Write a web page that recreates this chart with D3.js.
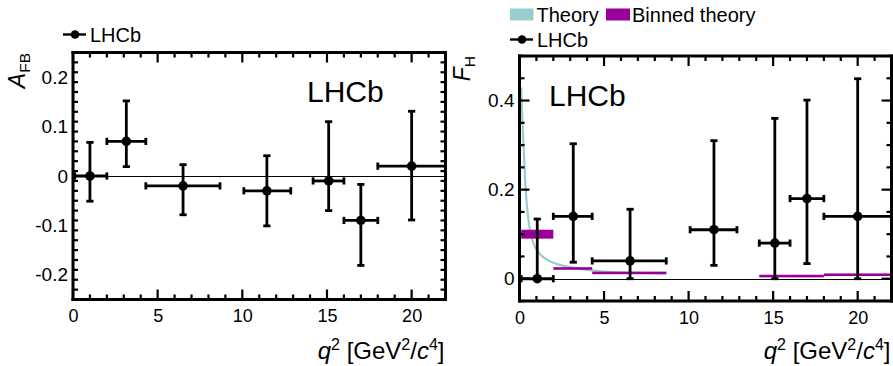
<!DOCTYPE html>
<html><head><meta charset="utf-8">
<script src="https://cdn.jsdelivr.net/npm/d3@7"></script>
</head>
<body style="margin:0;background:#fff">
<svg id="chart" width="893" height="366" style="font-family:'Liberation Sans',Arial,Helvetica,sans-serif"></svg>
<script>
// ---- data ----
const binLo = [0.1, 2.0, 4.3, 10.09, 14.18, 16.0, 18.0];
const binHi = [2.0, 4.3, 8.68, 12.86, 16.0, 18.0, 22.0];

const afbX = [1.0, 3.15, 6.5, 11.45, 15.1, 17.0, 20.0];
const afbY = [0.0, 0.07, -0.02, -0.03, -0.01, -0.09, 0.02];
const afbErrUp = [0.068, 0.082, 0.043, 0.071, 0.12, 0.073, 0.111];
const afbErrDn = [0.051, 0.051, 0.0585, 0.071, 0.06, 0.091, 0.109];

const fhX = [1.05, 3.18, 6.54, 11.5, 15.1, 17.0, 20.0];
const fhY = [0.0, 0.14, 0.04, 0.11, 0.08, 0.18, 0.14];
const fhErrUp = [0.134, 0.163, 0.116, 0.20, 0.28, 0.221, 0.309];
const fhErrDn = [0.0, 0.103, 0.04, 0.08, 0.08, 0.146, 0.14];

const theoryQ2 = [0.1, 0.15, 0.2, 0.25, 0.35, 0.5, 0.75, 1.0, 1.25, 1.75, 2.5, 3.0, 4.0, 5.0, 6.0, 7.0, 8.7];
const theoryFH = [0.43, 0.38, 0.33, 0.29, 0.21, 0.14, 0.088, 0.066, 0.054, 0.04, 0.03, 0.026, 0.02, 0.016, 0.014, 0.013, 0.012];

const binThLo = [0.1, 2.0, 4.3, 14.18, 16.0, 18.0];
const binThHi = [2.0, 4.3, 8.68, 16.0, 18.0, 22.0];
const binThVal = [0.100, 0.023, 0.013, 0.006, 0.006, 0.009];
const binThErr = [0.010, 0.0015, 0.0015, 0.0015, 0.0015, 0.0015];

const xTicks = [0, 5, 10, 15, 20];
const afbTicks = [-0.2, -0.1, 0, 0.1, 0.2];
const afbTickLabels = ["-0.2", "-0.1", "0", "0.1", "0.2"];
const fhTicks = [0, 0.2, 0.4];
const fhTickLabels = ["0", "0.2", "0.4"];

const theoryColor = "#99cccc";
const binnedColor = "#990099";

const svg = d3.select("#chart");
const frames = [];

function panel(opt) {
  const g = svg.append("g");
  const x = d3.scaleLinear().domain([0, 22]).range([opt.x0, opt.x1]);
  const y = d3.scaleLinear().domain(opt.yDomain).range([opt.y1, opt.y0]);

  // zero line
  g.append("line").attr("x1", x(0)).attr("x2", x(22)).attr("y1", Math.round(y(0)) + 0.5).attr("y2", Math.round(y(0)) + 0.5)
    .attr("stroke", "#000").attr("stroke-width", 1);

  if (opt.theory) {
    const line = d3.line().x((d, i) => x(theoryQ2[i])).y((d, i) => y(theoryFH[i])).curve(d3.curveMonotoneX);
    g.append("path").attr("d", line(theoryQ2)).attr("fill", "none").attr("stroke", theoryColor).attr("stroke-width", 2.2);
    binThVal.forEach((d, i) => {
      g.append("rect")
        .attr("x", x(binThLo[i]))
        .attr("width", x(binThHi[i]) - x(binThLo[i]))
        .attr("y", Math.min(y(d + binThErr[i]), y(d) - 1.3))
        .attr("height", Math.max(y(d - binThErr[i]) - y(d + binThErr[i]), 2.6))
        .attr("fill", binnedColor);
    });
  }

  // error bars
  const cap = 3.6;
  opt.px.forEach((xv, i) => {
    const yv = opt.py[i];
    const xl = x(binLo[i]), xr = x(binHi[i]);
    const yTop = y(yv + opt.eu[i]), yBot = y(yv - opt.ed[i]);
    const segs = [
      [xl, y(yv), xr, y(yv)],
      [xl, y(yv) - cap, xl, y(yv) + cap],
      [xr, y(yv) - cap, xr, y(yv) + cap],
      [x(xv), yTop, x(xv), yBot],
      [x(xv) - cap, yTop, x(xv) + cap, yTop],
      [x(xv) - cap, yBot, x(xv) + cap, yBot]
    ];
    segs.forEach(s => g.append("line").attr("x1", s[0]).attr("y1", s[1]).attr("x2", s[2]).attr("y2", s[3])
      .attr("stroke", "#000").attr("stroke-width", 2.8));
  });
  opt.py.forEach((d, i) => {
    g.append("circle").attr("cx", x(opt.px[i])).attr("cy", y(d)).attr("r", 4.8).attr("fill", "#000");
  });

  // tick labels through d3 axes
  const xb = g.append("g").attr("transform", `translate(0,${opt.y1})`)
    .call(d3.axisBottom(x).tickValues(xTicks).tickSize(0).tickPadding(10).tickFormat(d3.format("d")));
  xb.select(".domain").remove();
  xb.selectAll("text").attr("font-size", 18).attr("fill", "#000").attr("font-family", "Liberation Sans, Arial, sans-serif");
  const yl = g.append("g").attr("transform", `translate(${opt.x0},0)`)
    .call(d3.axisLeft(y).tickValues(opt.yTicks).tickSize(0).tickPadding(5).tickFormat((d, i) => opt.yTickLabels[i]));
  yl.select(".domain").remove();
  yl.selectAll("text").attr("font-size", 19).attr("fill", "#000").attr("font-family", "Liberation Sans, Arial, sans-serif");

  // LHCb label
  g.append("text").attr("x", opt.lhcbX).attr("y", opt.lhcbY).attr("font-size", 30).text("LHCb");

  // x title
  const xtt = g.append("text").attr("x", opt.x1 - 1).attr("y", 359).attr("text-anchor", "end").attr("font-size", 24);
  xtt.append("tspan").attr("font-style", "italic").text("q");
  xtt.append("tspan").attr("font-size", 16).attr("dy", -9).text("2");
  xtt.append("tspan").attr("dy", 9).text(" [GeV");
  xtt.append("tspan").attr("font-size", 16).attr("dy", -9).text("2");
  xtt.append("tspan").attr("dy", 9).text("/");
  xtt.append("tspan").attr("font-style", "italic").text("c");
  xtt.append("tspan").attr("font-size", 16).attr("dy", -9).text("4");
  xtt.append("tspan").attr("dy", 9).text("]");

  // y title
  const ytt = g.append("text").attr("transform", `translate(${opt.ytX},${opt.ytY}) rotate(-90)`)
    .attr("text-anchor", "end").attr("font-size", 23);
  ytt.append("tspan").attr("font-style", "italic").text(opt.yMain);
  ytt.append("tspan").attr("font-size", 15.5).attr("dy", 5).text(opt.ySub);

  frames.push({ opt, x, y });
}

panel({
  x0: 73, x1: 445.5, y0: 52.5, y1: 299.5, yDomain: [-0.25, 0.25], yMinorStep: 0.02,
  yTicks: afbTicks, yTickLabels: afbTickLabels,
  px: afbX, py: afbY, eu: afbErrUp, ed: afbErrDn, theory: false,
  lhcbX: 307, lhcbY: 102, ytX: 25, ytY: 53, yMain: "A", ySub: "FB"
});
panel({
  x0: 519.5, x1: 891.5, y0: 56, y1: 301, yDomain: [-0.05, 0.5], yMinorStep: 0.05,
  yTicks: fhTicks, yTickLabels: fhTickLabels,
  px: fhX, py: fhY, eu: fhErrUp, ed: fhErrDn, theory: true,
  lhcbX: 549, lhcbY: 106, ytX: 470, ytY: 56, yMain: "F", ySub: "H"
});

// legends
function lhcbLegend(x, y) {
  svg.append("line").attr("x1", x).attr("x2", x + 23).attr("y1", y).attr("y2", y).attr("stroke", "#000").attr("stroke-width", 2.4);
  svg.append("circle").attr("cx", x + 12).attr("cy", y).attr("r", 4.3).attr("fill", "#000");
  svg.append("text").attr("x", x + 27).attr("y", y + 7).attr("font-size", 20).text("LHCb");
}
lhcbLegend(63, 34.5);
lhcbLegend(510, 39.5);
svg.append("rect").attr("x", 510).attr("y", 8.5).attr("width", 23.5).attr("height", 12).attr("fill", theoryColor);
svg.append("text").attr("x", 536.5).attr("y", 21.5).attr("font-size", 20).text("Theory");
svg.append("rect").attr("x", 606).attr("y", 8.5).attr("width", 24).attr("height", 12).attr("fill", binnedColor);
svg.append("text").attr("x", 632).attr("y", 21.5).attr("font-size", 20).text("Binned theory");

// frames and inward ticks, drawn last as filled rectangles
const fg = svg.append("g").attr("fill", "#000");
frames.forEach(({ opt, x, y }) => {
  const t = 3;
  // frame sides
  fg.append("rect").attr("x", opt.x0 - t / 2).attr("y", opt.y0 - t / 2).attr("width", opt.x1 - opt.x0 + t).attr("height", t);
  fg.append("rect").attr("x", opt.x0 - t / 2).attr("y", opt.y1 - t / 2).attr("width", opt.x1 - opt.x0 + t).attr("height", t);
  fg.append("rect").attr("x", opt.x0 - t / 2).attr("y", opt.y0 - t / 2).attr("width", t).attr("height", opt.y1 - opt.y0 + t);
  fg.append("rect").attr("x", opt.x1 - t / 2).attr("y", opt.y0 - t / 2).attr("width", t).attr("height", opt.y1 - opt.y0 + t);
  const w = 2.2;
  d3.range(0, 23, 1).forEach(v => {
    const len = xTicks.includes(v) ? 10 : 5;
    fg.append("rect").attr("x", x(v) - w / 2).attr("y", opt.y1 - len).attr("width", w).attr("height", len);
    fg.append("rect").attr("x", x(v) - w / 2).attr("y", opt.y0).attr("width", w).attr("height", len);
  });
  const n = Math.round((opt.yDomain[1] - opt.yDomain[0]) / opt.yMinorStep);
  d3.range(0, n + 1).forEach(k => {
    const v = opt.yDomain[0] + k * opt.yMinorStep;
    const len = opt.yTicks.some(tv => Math.abs(tv - v) < 1e-6) ? 10 : 5;
    fg.append("rect").attr("x", opt.x0).attr("y", y(v) - w / 2).attr("width", len).attr("height", w);
    fg.append("rect").attr("x", opt.x1 - len).attr("y", y(v) - w / 2).attr("width", len).attr("height", w);
  });
});
</script>
</body></html>
